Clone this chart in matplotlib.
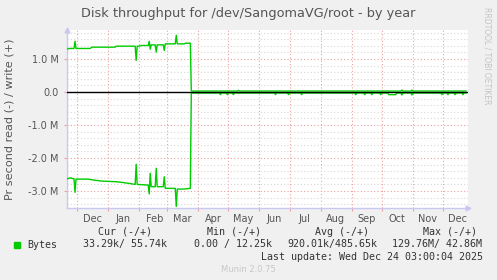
import datetime as dt
import matplotlib
matplotlib.use('Agg')
import matplotlib.pyplot as plt
import matplotlib.dates as mdates
from matplotlib.ticker import MultipleLocator, FixedLocator, NullFormatter

# write (+) series, MB/s
write_dates = ['2024-11-21', '2024-11-23', '2024-11-28', '2024-11-29', '2024-11-30', '2024-12-14',
               '2024-12-16', '2025-01-08', '2025-01-09', '2025-01-28', '2025-01-29', '2025-01-30',
               '2025-02-01', '2025-02-03', '2025-02-10', '2025-02-11', '2025-02-12', '2025-02-13',
               '2025-02-17', '2025-02-18', '2025-02-19', '2025-02-25', '2025-02-26', '2025-02-27',
               '2025-03-09', '2025-03-10', '2025-03-11', '2025-03-18', '2025-03-19', '2025-03-24',
               '2025-03-25', '2025-05-10', '2025-05-11', '2025-05-12', '2025-10-20', '2025-10-21',
               '2025-10-22', '2025-10-30', '2025-10-31', '2025-11-01', '2025-12-24']
write_vals = [1.30, 1.32, 1.32, 1.54, 1.32, 1.32,
              1.36, 1.36, 1.39, 1.39, 0.96, 1.39,
              1.39, 1.41, 1.41, 1.54, 1.30, 1.43,
              1.43, 1.21, 1.43, 1.43, 1.26, 1.46,
              1.46, 1.72, 1.46, 1.46, 1.48, 1.48,
              0.03, 0.03, 0.05, 0.03, 0.03, 0.06,
              0.03, 0.03, 0.06, 0.03, 0.03]

# read (-) series, MB/s
read_dates = ['2024-11-21', '2024-11-25', '2024-11-26', '2024-11-28', '2024-11-29', '2024-11-30',
              '2024-12-12', '2024-12-18', '2024-12-26', '2025-01-10', '2025-01-15', '2025-01-22',
              '2025-01-28', '2025-01-29', '2025-01-30', '2025-02-10', '2025-02-11', '2025-02-12',
              '2025-02-13', '2025-02-17', '2025-02-18', '2025-02-19', '2025-02-25', '2025-02-26',
              '2025-02-27', '2025-03-09', '2025-03-10', '2025-03-11', '2025-03-18', '2025-03-24',
              '2025-03-25', '2025-04-22', '2025-04-23', '2025-04-24', '2025-04-29', '2025-04-30',
              '2025-05-01', '2025-05-05', '2025-05-06', '2025-05-07', '2025-06-16', '2025-06-17',
              '2025-06-18', '2025-06-29', '2025-06-30', '2025-07-01', '2025-07-12', '2025-07-13',
              '2025-07-14', '2025-09-04', '2025-09-05', '2025-09-06', '2025-09-13', '2025-09-14',
              '2025-09-15', '2025-09-20', '2025-09-21', '2025-09-22', '2025-09-29', '2025-09-30',
              '2025-10-01', '2025-10-07', '2025-10-08', '2025-10-15', '2025-10-16', '2025-10-20',
              '2025-10-21', '2025-10-22', '2025-10-30', '2025-10-31', '2025-11-01', '2025-11-29',
              '2025-11-30', '2025-12-01', '2025-12-05', '2025-12-06', '2025-12-07', '2025-12-12',
              '2025-12-13', '2025-12-14', '2025-12-20', '2025-12-21', '2025-12-22', '2025-12-24']
read_vals = [-2.63, -2.60, -2.62, -2.63, -3.04, -2.64,
             -2.64, -2.67, -2.70, -2.72, -2.74, -2.77,
             -2.80, -2.19, -2.80, -2.82, -3.09, -2.46,
             -2.87, -2.87, -2.31, -2.87, -2.87, -2.57,
             -2.92, -2.92, -3.47, -2.94, -2.94, -2.92,
             -0.03, -0.03, -0.08, -0.03, -0.03, -0.08,
             -0.03, -0.03, -0.08, -0.03, -0.03, -0.08,
             -0.03, -0.03, -0.08, -0.03, -0.03, -0.08,
             -0.03, -0.03, -0.08, -0.03, -0.03, -0.08,
             -0.03, -0.03, -0.08, -0.03, -0.03, -0.08,
             -0.03, -0.03, -0.08, -0.08, -0.03, -0.03,
             -0.09, -0.03, -0.03, -0.09, -0.03, -0.03,
             -0.08, -0.03, -0.03, -0.08, -0.03, -0.03,
             -0.08, -0.03, -0.03, -0.08, -0.03, -0.03]

y_ticks = [-3, -2, -1, 0, 1]
y_labels = ['-3.0 M', '-2.0 M', '-1.0 M', '0.0', '1.0 M']

title = 'Disk throughput for /dev/SangomaVG/root - by year'
ylabel = 'Pr second read (-) / write (+)'
legend_head = ['Cur (-/+)', 'Min (-/+)', 'Avg (-/+)', 'Max (-/+)']
legend_vals = ['33.29k/ 55.74k', '0.00 / 12.25k', '920.01k/485.65k', '129.76M/ 42.86M']
last_update = 'Last update: Wed Dec 24 03:00:04 2025'

W, H = 497, 280
GREEN = '#00cc00'
TXT = '#555555'

fig = plt.figure(figsize=(W / 100, H / 100), dpi=100, facecolor='#f0f0f0')
ax = fig.add_axes([67 / W, 1 - 208 / H, 401 / W, 178 / H])
ax.set_facecolor('white')

wd = [dt.datetime.strptime(d, '%Y-%m-%d') for d in write_dates]
rd = [dt.datetime.strptime(d, '%Y-%m-%d') for d in read_dates]
ax.plot(wd, write_vals, color=GREEN, lw=1, zorder=3)
ax.plot(rd, read_vals, color=GREEN, lw=1, zorder=3)
ax.axhline(0, color='black', lw=1, zorder=4)

ax.set_xlim(dt.datetime(2024, 11, 21), dt.datetime(2025, 12, 26))
ax.set_ylim(-3.515, 1.88)

# grid
ax.yaxis.set_major_locator(FixedLocator(y_ticks))
ax.set_yticklabels(y_labels)
ax.yaxis.set_minor_locator(MultipleLocator(0.2))
ax.grid(which='minor', axis='y', color='#d8d8d8', lw=0.8, ls=(0, (1, 2)))
ax.grid(which='major', axis='y', color='#e8a0a0', lw=0.8, ls=(0, (1, 2)))
ax.xaxis.set_major_locator(mdates.MonthLocator(bymonthday=1))
ax.xaxis.set_major_formatter(NullFormatter())
ax.xaxis.set_minor_locator(mdates.MonthLocator(bymonthday=16))
ax.xaxis.set_minor_formatter(mdates.DateFormatter('%b'))
ax.grid(which='major', axis='x', color='#f0a0a0', lw=0.8, ls=(0, (1, 2)))
ax.set_axisbelow(True)

ax.tick_params(axis='y', which='major', length=2, color='#f0a0a0', labelsize=7,
               labelcolor=TXT, pad=4)
ax.tick_params(axis='y', which='minor', length=0)
ax.tick_params(axis='x', which='minor', length=0, labelsize=7, labelcolor=TXT, pad=4)
ax.tick_params(axis='x', which='major', length=2, color='#f0a0a0')

for s in ['top', 'right']:
    ax.spines[s].set_visible(False)
for s in ['left', 'bottom']:
    ax.spines[s].set_color('#c8c8f0')
    ax.spines[s].set_linewidth(1)

# axis arrows
ax.plot(0, 1, marker='^', color='#c8c8f0', ms=3.5, transform=ax.transAxes, clip_on=False)
ax.plot(1, 0, marker='>', color='#c8c8f0', ms=3.5, transform=ax.transAxes, clip_on=False)


def ftext(x, y, s, **kw):
    fig.text(x / W, 1 - y / H, s, **kw)


ftext(248, 13, title, ha='center', va='center', fontsize=9.3, color=TXT)
ftext(10, 119, ylabel, ha='center', va='center', rotation=90, fontsize=8.1, color=TXT)
ftext(487, 56, 'RRDTOOL / TOBI OETIKER', ha='center', va='center', rotation=270,
      fontsize=5.5, color='#c4c4c4')

mono = dict(family='DejaVu Sans Mono', fontsize=7.2, color='#333333', va='center')
for x, s in zip([98, 207, 315, 423], legend_head):
    ftext(x, 232, s, ha='left', **mono)
fig.patches.append(plt.Rectangle((14 / W, 1 - 248 / H), 6 / W, 6 / H, color=GREEN,
                                 transform=fig.transFigure, figure=fig))
ftext(27, 244.5, 'Bytes', ha='left', **mono)
for x, s in zip([83, 194, 287, 392], legend_vals):
    ftext(x, 244.5, s, ha='left', **mono)
ftext(483, 257, last_update, ha='right', **mono)
ftext(248, 269, 'Munin 2.0.75', ha='center', va='center', fontsize=6, color='#c8c8c8')

fig.savefig('out.png', dpi=100, facecolor=fig.get_facecolor())
